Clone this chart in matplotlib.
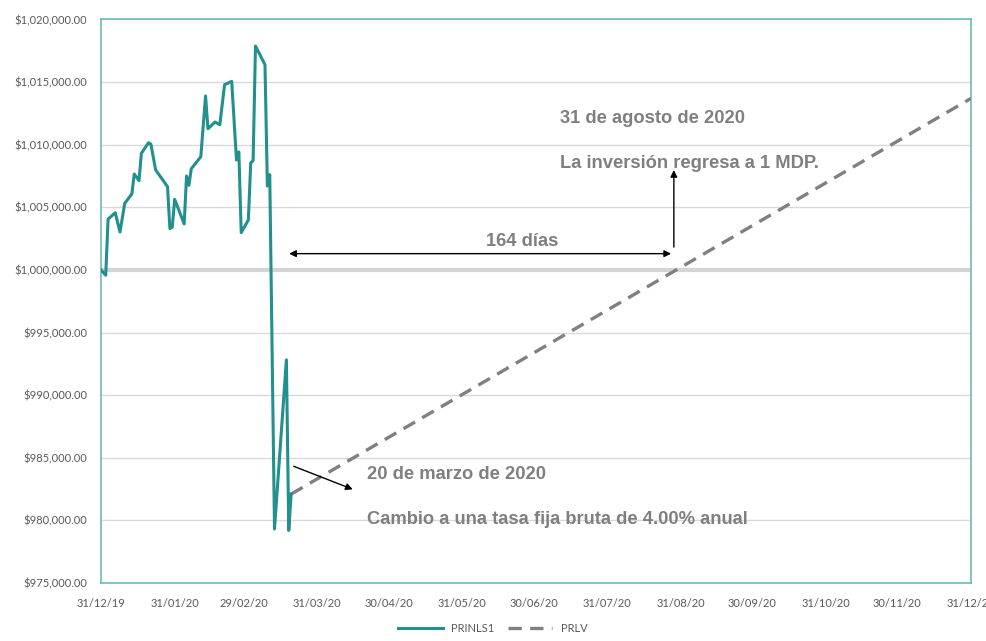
import numpy as np
import pandas as pd
import matplotlib
matplotlib.use("Agg")
import matplotlib.pyplot as plt
import matplotlib.dates as mdates
from matplotlib.ticker import FuncFormatter

# PRINLS1 (valor diario aproximado)
prinls1_dates = [
    "2019-12-31", "2020-01-02", "2020-01-03", "2020-01-06", "2020-01-08",
    "2020-01-10", "2020-01-13", "2020-01-14", "2020-01-16", "2020-01-17",
    "2020-01-20", "2020-01-21", "2020-01-23", "2020-01-24", "2020-01-28",
    "2020-01-29", "2020-01-30", "2020-01-31", "2020-02-04", "2020-02-05",
    "2020-02-06", "2020-02-07", "2020-02-11", "2020-02-13", "2020-02-14",
    "2020-02-17", "2020-02-19", "2020-02-21", "2020-02-24", "2020-02-26",
    "2020-02-27", "2020-02-28", "2020-03-02", "2020-03-03", "2020-03-04",
    "2020-03-05", "2020-03-09", "2020-03-10", "2020-03-11", "2020-03-13",
    "2020-03-18", "2020-03-19", "2020-03-20",
]
prinls1_values = [
    1000000, 999580, 1004050, 1004570, 1003030,
    1005320, 1006070, 1007660, 1007130, 1009310,
    1010160, 1010050, 1007980, 1007720, 1006650,
    1003300, 1003410, 1005640, 1003670, 1007500,
    1006760, 1008080, 1009040, 1013890, 1011280,
    1011810, 1011600, 1014790, 1015060, 1008780,
    1009420, 1002980, 1003990, 1008560, 1008720,
    1017880, 1016390, 1006700, 1007610, 979310,
    992820, 979200, 982100,
]

# PRLV (tasa fija a partir del 20/03/2020)
prlv_dates = ["2020-03-20", "2020-12-31"]
prlv_values = [982100, 1013700]

x_ticks = ["2019-12-31", "2020-01-31", "2020-02-29", "2020-03-31", "2020-04-30",
           "2020-05-31", "2020-06-30", "2020-07-31", "2020-08-31", "2020-09-30",
           "2020-10-31", "2020-11-30", "2020-12-31"]

teal = "#22908c"
grey_txt = "#7f7f7f"

fig = plt.figure(figsize=(9.86, 6.41), dpi=100)
ax = fig.add_axes([0.1024, 0.0905, 0.8824, 0.8791])

d1 = pd.to_datetime(prinls1_dates)
d2 = pd.to_datetime(prlv_dates)

ax.plot(d1, prinls1_values, color=teal, lw=2.2, label="PRINLS1", zorder=4)
ax.plot(d2, prlv_values, color="#808080", lw=2.4, ls=(0, (4, 2.5)), label="PRLV", zorder=3)

ax.axhline(1000000, color="#d4d4d4", lw=3, zorder=2)

ax.set_xlim(pd.Timestamp("2019-12-31"), pd.Timestamp("2020-12-31"))
ax.set_ylim(975000, 1020000)
ax.set_yticks(np.arange(975000, 1020001, 5000))
ax.yaxis.set_major_formatter(FuncFormatter(lambda v, p: f"${v:,.2f}"))
ax.set_xticks(pd.to_datetime(x_ticks))
ax.xaxis.set_major_formatter(mdates.DateFormatter("%d/%m/%y"))
ax.grid(axis="y", color="#d9d9d9", lw=1)
ax.set_axisbelow(True)
ax.tick_params(axis="y", length=0, labelsize=8, colors="#595959", pad=10)
ax.tick_params(axis="x", length=0, labelsize=8, colors="#595959", pad=11)
for lab in ax.get_xticklabels() + ax.get_yticklabels():
    lab.set_fontfamily("Lato")
for s in ax.spines.values():
    s.set_color("#6cbcb7")
    s.set_linewidth(1.2)

# anotaciones
font = dict(family="Liberation Sans", fontsize=13.2, fontweight="bold", color=grey_txt)
ax.text(pd.Timestamp("2020-07-11"), 1012120, "31 de agosto de 2020", va="center", **font)
ax.text(pd.Timestamp("2020-07-11"), 1008520, "La inversión regresa a 1 MDP.", va="center", **font)
ax.text(pd.Timestamp("2020-06-25"), 1002250, "164 días", va="center", ha="center", **font)
ax.text(pd.Timestamp("2020-04-21"), 983640, "20 de marzo de 2020", va="center", **font)
ax.text(pd.Timestamp("2020-04-21"), 980040, "Cambio a una tasa fija bruta de 4.00% anual", va="center", **font)

arrow = dict(arrowstyle="-|>", color="black", lw=1, mutation_scale=10)
ax.annotate("", xy=(pd.Timestamp("2020-03-18"), 1001300),
            xytext=(pd.Timestamp("2020-08-28"), 1001300),
            arrowprops=dict(arrowstyle="<|-|>", color="black", lw=1, mutation_scale=10))
ax.annotate("", xy=(pd.Timestamp("2020-08-28"), 1008200),
            xytext=(pd.Timestamp("2020-08-28"), 1001600), arrowprops=arrow)
ax.annotate("", xy=(pd.Timestamp("2020-04-16"), 982400),
            xytext=(pd.Timestamp("2020-03-20"), 984400), arrowprops=arrow)

leg = fig.legend(loc="lower center", bbox_to_anchor=(0.5, -0.005), ncol=2, frameon=False,
                 prop={"family": "Lato", "size": 8}, handlelength=4, columnspacing=1.2)
for t in leg.get_texts():
    t.set_color("#595959")

fig.savefig("out.png", dpi=100)
